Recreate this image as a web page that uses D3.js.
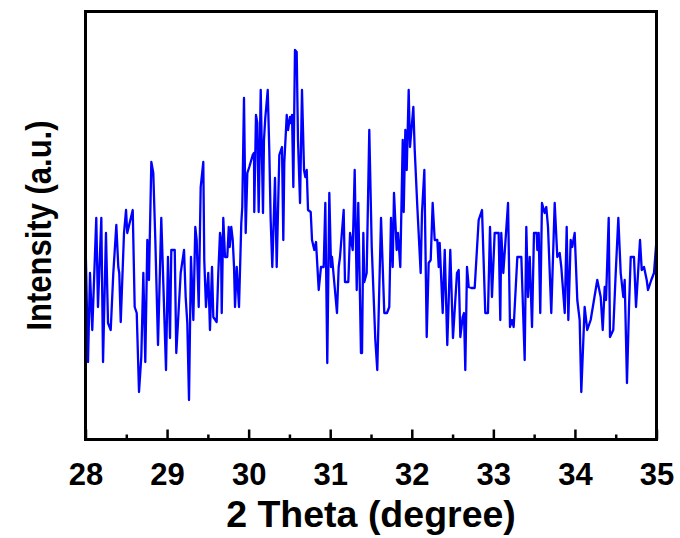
<!DOCTYPE html>
<html>
<head>
<meta charset="utf-8">
<script src="https://cdn.jsdelivr.net/npm/d3@7"></script>
<style>
  html, body { margin: 0; padding: 0; background: #fff; }
  svg { display: block; }
</style>
</head>
<body>
<svg id="chart" width="680" height="538"></svg>
<script>
// 2θ positions (degree)
const twoTheta = [
28.000,28.031,28.055,28.083,28.132,28.153,28.194,28.215,28.251,28.276,28.309,28.341,28.378,28.402,28.414,28.432,28.472,28.497,28.512,28.579,
28.603,28.628,28.656,28.684,28.709,28.733,28.758,28.778,28.807,28.831,28.856,28.889,28.929,28.987,29.011,29.036,29.052,29.094,29.113,29.167,
29.208,29.228,29.248,29.269,29.293,29.322,29.346,29.363,29.388,29.412,29.444,29.456,29.477,29.505,29.526,29.551,29.567,29.608,29.628,29.649,
29.661,29.670,29.689,29.710,29.738,29.756,29.768,29.787,29.805,29.821,29.833,29.854,29.882,29.910,29.922,29.943,29.964,29.984,30.008,30.050,
30.066,30.069,30.090,30.106,30.123,30.148,30.176,30.188,30.204,30.234,30.253,30.270,30.290,30.323,30.344,30.376,30.409,30.425,30.437,30.467,
30.483,30.507,30.516,30.532,30.548,30.568,30.589,30.605,30.630,30.654,30.679,30.695,30.712,30.728,30.761,30.777,30.805,30.826,30.859,30.887,
30.920,30.940,30.964,30.989,31.010,31.022,31.083,31.104,31.120,31.165,31.181,31.222,31.243,31.276,31.300,31.325,31.344,31.377,31.390,31.406,
31.418,31.447,31.479,31.509,31.553,31.577,31.623,31.663,31.696,31.724,31.745,31.766,31.782,31.815,31.831,31.859,31.889,31.901,31.921,31.938,
31.962,31.978,32.019,32.036,32.068,32.109,32.125,32.154,32.183,32.207,32.232,32.256,32.281,32.313,32.330,32.342,32.379,32.404,32.435,32.472,
32.505,32.554,32.575,32.595,32.624,32.640,32.656,32.677,32.698,32.730,32.771,32.820,32.861,32.901,32.934,32.959,32.983,33.016,33.065,33.085,
33.097,33.122,33.180,33.204,33.229,33.249,33.294,33.343,33.384,33.404,33.425,33.446,33.474,33.498,33.531,33.539,33.556,33.575,33.596,33.629,
33.649,33.670,33.710,33.752,33.784,33.813,33.833,33.875,33.899,33.919,33.948,33.967,33.997,34.029,34.058,34.078,34.119,34.151,34.193,34.274,
34.316,34.341,34.365,34.381,34.414,34.430,34.470,34.500,34.532,34.561,34.593,34.610,34.638,34.663,34.684,34.724,34.749,34.798,34.819,34.847,
34.880,34.896,34.936,34.969,35.000
];
// Intensity (a.u.)
const intensity = [
200,78,167,110,222,133,222,78,207,117,110,167,215,173,167,118,207,230,207,230,
133,127,48,83,167,78,200,160,278,267,200,95,222,70,183,102,190,190,87,167,
190,143,117,40,183,120,213,200,133,253,278,180,133,167,110,173,123,118,167,207,
200,127,222,183,183,213,193,213,200,173,133,173,133,217,233,342,207,267,273,285,
287,228,325,317,228,350,227,300,322,350,290,220,173,262,173,285,293,200,277,325,
310,323,317,325,253,390,388,300,237,350,270,263,270,230,228,200,190,198,150,173,
173,237,77,247,173,183,127,173,183,230,158,158,207,190,270,150,237,87,87,207,
158,167,310,193,100,70,222,127,127,133,222,173,247,190,207,173,300,228,310,270,
350,293,333,290,233,167,227,270,103,177,180,237,200,200,173,197,127,190,95,190,
102,167,170,103,123,127,70,173,153,152,152,220,230,127,127,213,143,207,207,120,
207,167,237,113,120,113,183,183,80,213,143,183,113,207,207,190,207,127,237,227,
233,213,127,237,183,187,173,127,213,120,200,193,207,140,120,48,133,110,120,160,
143,110,153,140,222,103,110,167,222,167,143,160,57,133,183,183,133,200,170,173,
160,150,160,167,200
];
const majorTicks = [28, 29, 30, 31, 32, 33, 34, 35];
const minorTicks = [28.5, 29.5, 30.5, 31.5, 32.5, 33.5, 34.5];
const xTitle = "2 Theta (degree)";
const yTitle = "Intensity (a.u.)";

(function () {
  const data = twoTheta.map((t, i) => ({ t, v: intensity[i] }));

  const svg = d3.select("#chart");
  const pLeft = 85.5, pRight = 656.5, pTop = 11.5, pBottom = 439.5;
  const FONT = "'Liberation Sans', Arial, Helvetica, sans-serif";

  const x = d3.scaleLinear().domain([28, 35]).range([pLeft, pRight]);
  const y = d3.scaleLinear().domain([0, 430]).range([440, 10]);

  // data line
  const line = d3.line().x(d => x(d.t)).y(d => y(d.v));
  svg.append("path")
    .datum(data)
    .attr("d", line)
    .attr("fill", "none")
    .attr("stroke", "#0000ff")
    .attr("stroke-width", 2.3)
    .attr("stroke-linejoin", "round");

  // minor ticks
  const minorAxis = d3.axisBottom(x).tickValues(minorTicks).tickSize(-5).tickFormat("");
  const gMinor = svg.append("g").attr("transform", `translate(0,${pBottom})`).call(minorAxis);
  gMinor.select(".domain").remove();
  gMinor.selectAll("line").attr("stroke", "#000").attr("stroke-width", 2.5);

  // major ticks
  const majorAxis = d3.axisBottom(x).tickValues(majorTicks).tickSize(-10).tickPadding(0).tickFormat(d3.format("d"));
  const gMajor = svg.append("g").attr("transform", `translate(0,${pBottom})`).call(majorAxis);
  gMajor.select(".domain").remove();
  gMajor.selectAll("line").attr("stroke", "#000").attr("stroke-width", 2.5);
  gMajor.selectAll("text")
    .attr("y", 45.5)
    .attr("dy", null)
    .attr("fill", "#000")
    .style("font-family", FONT)
    .style("font-weight", "bold")
    .style("font-size", "31px");

  // frame
  svg.append("rect")
    .attr("x", pLeft).attr("y", pTop)
    .attr("width", pRight - pLeft).attr("height", pBottom - pTop)
    .attr("fill", "none")
    .attr("stroke", "#000")
    .attr("stroke-width", 3);

  // axis titles
  svg.append("text")
    .attr("x", (pLeft + pRight) / 2)
    .attr("y", 527)
    .attr("text-anchor", "middle")
    .style("font-family", FONT)
    .style("font-weight", "bold")
    .style("font-size", "37.5px")
    .text(xTitle);

  svg.append("text")
    .attr("transform", `translate(51,${(pTop + pBottom) / 2}) rotate(-90) scale(1,1.15)`)
    .attr("text-anchor", "middle")
    .style("font-family", FONT)
    .style("font-weight", "bold")
    .style("font-size", "31px")
    .text(yTitle);
})();
</script>
</body>
</html>
